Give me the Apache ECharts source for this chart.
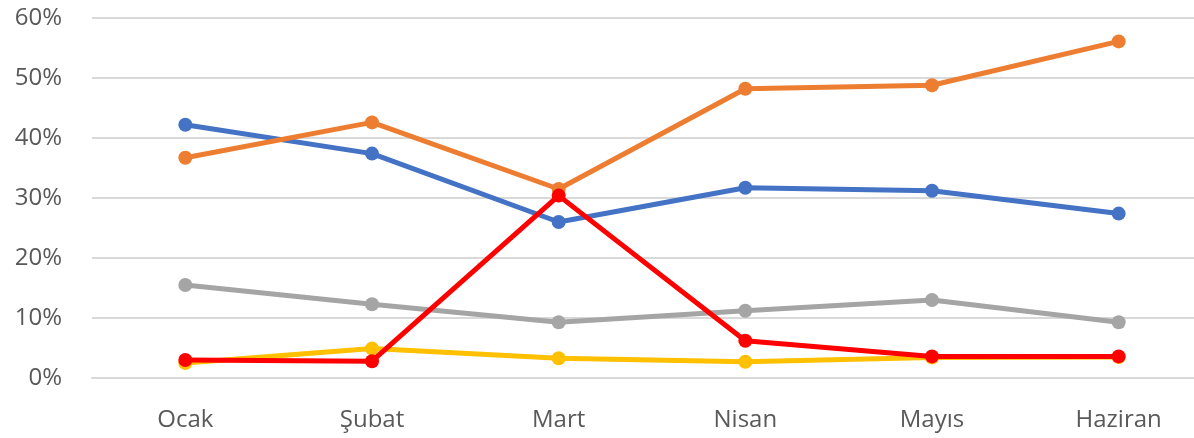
<!DOCTYPE html>
<html>
<head>
<meta charset="utf-8">
<script src="https://cdn.jsdelivr.net/npm/echarts@6/dist/echarts.min.js"></script>
<style>
html,body{margin:0;padding:0;background:#fff;overflow:hidden;}
#chart{width:1212px;height:438px;}
</style>
</head>
<body>
<div id="chart"></div>
<script>
const categories = ['Ocak', 'Şubat', 'Mart', 'Nisan', 'Mayıs', 'Haziran'];
const blueValues = [42.2, 37.4, 26.0, 31.7, 31.2, 27.4];
const orangeValues = [36.7, 42.6, 31.5, 48.2, 48.8, 56.1];
const grayValues = [15.5, 12.3, 9.3, 11.2, 13.0, 9.3];
const yellowValues = [2.5, 4.9, 3.3, 2.7, 3.4, 3.5];
const redValues = [3.0, 2.8, 30.4, 6.2, 3.6, 3.6];
const yTicks = [0, 10, 20, 30, 40, 50, 60];

const FONT = 'Open Sans';
const chart = echarts.init(document.getElementById('chart'), null, {renderer: 'canvas'});

function line(name, data, color, z) {
  return {
    name: name,
    type: 'line',
    data: data,
    symbol: 'circle',
    symbolSize: 14,
    z: z,
    lineStyle: {color: color, width: 5},
    itemStyle: {color: color},
    emphasis: {disabled: true},
    animation: false
  };
}

chart.setOption({
  backgroundColor: '#ffffff',
  animation: false,
  grid: {left: 92, top: 18, right: 0, height: 360, containLabel: false},
  xAxis: {
    type: 'category',
    data: categories,
    boundaryGap: true,
    axisLine: {show: true, lineStyle: {color: '#d9d9d9', width: 2}},
    axisTick: {show: false},
    axisLabel: {color: '#595959', fontSize: 24, fontFamily: FONT, margin: 30}
  },
  yAxis: {
    type: 'value',
    min: yTicks[0],
    max: yTicks[yTicks.length - 1],
    interval: 10,
    axisLine: {show: false},
    axisTick: {show: false},
    splitLine: {lineStyle: {color: '#d9d9d9', width: 2}},
    axisLabel: {color: '#595959', fontSize: 24, fontFamily: FONT, margin: 30, formatter: '{value}%'}
  },
  series: [
    line('Mavi', blueValues, '#4472C4', 2),
    line('Turuncu', orangeValues, '#ED7D31', 3),
    line('Gri', grayValues, '#A5A5A5', 4),
    line('Sarı', yellowValues, '#FFC000', 5),
    line('Kırmızı', redValues, '#FF0000', 6)
  ]
});
</script>
</body>
</html>
